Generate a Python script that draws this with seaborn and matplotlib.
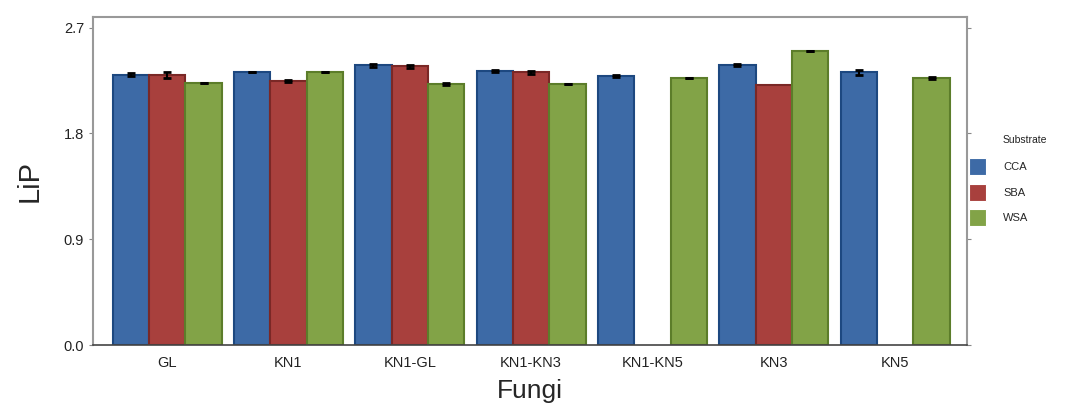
import numpy as np
import pandas as pd
import matplotlib
matplotlib.use("Agg")
import matplotlib.pyplot as plt
import seaborn as sns

fungi = ["GL", "KN1", "KN1-GL", "KN1-KN3", "KN1-KN5", "KN3", "KN5"]
substrates = ["CCA", "SBA", "WSA"]
cca = [2.30, 2.32, 2.38, 2.33, 2.29, 2.38, 2.32]
sba = [2.30, 2.25, 2.37, 2.32, np.nan, 2.21, np.nan]
wsa = [2.23, 2.32, 2.22, 2.22, 2.27, 2.50, 2.27]
cca_err = [0.012, 0.0, 0.012, 0.010, 0.010, 0.010, 0.020]
sba_err = [0.025, 0.008, 0.015, 0.010, np.nan, 0.012, np.nan]
wsa_err = [0.0, 0.0, 0.010, 0.0, 0.0, 0.0, 0.008]
colors = ["#3d6aa6", "#a8403d", "#82a347"]
edges = ["#1d4880", "#7a2826", "#5c7d2a"]

df = pd.DataFrame({
    "Fungi": fungi * 3,
    "Substrate": sum([[s] * len(fungi) for s in substrates], []),
    "LiP": cca + sba + wsa,
    "err": cca_err + sba_err + wsa_err,
})

sns.set_style("white")
plt.rcParams["font.family"] = ["Liberation Sans", "DejaVu Sans"]

fig = plt.figure(figsize=(10.7, 4.07), dpi=100)
ax = fig.add_axes([0.087, 0.152, 0.817, 0.806])
sns.barplot(data=df, x="Fungi", y="LiP", hue="Substrate", order=fungi,
            hue_order=substrates, palette=colors, errorbar=None, width=0.9,
            saturation=1, linewidth=1.5, ax=ax)

# color edges and add error bars at bar centers
for cont, ec, s in zip(ax.containers, edges, substrates):
    sub = df[df["Substrate"] == s].set_index("Fungi").loc[fungi]
    for bar, v, e in zip(cont, sub["LiP"], sub["err"]):
        bar.set_edgecolor(ec)
        if np.isnan(v):
            continue
        ax.errorbar(bar.get_x() + bar.get_width() / 2, v, yerr=e, fmt="none",
                    ecolor="black", elinewidth=1.5, capsize=3, capthick=2)

ax.set_ylim(0, 2.79)
ax.set_xlim(-0.61, 6.594)
ax.set_yticks([0.0, 0.9, 1.8, 2.7])
ax.set_yticklabels(["0.0", "0.9", "1.8", "2.7"])
ax.tick_params(axis="y", labelsize=10.5, length=3, left=True, right=True,
               color="#888888", labelcolor="#222222")
ax.tick_params(axis="x", labelsize=10.5, length=0, pad=8, labelcolor="#222222")
for side in ["left", "top", "right"]:
    ax.spines[side].set_color("#999999")
    ax.spines[side].set_linewidth(1.5)
ax.spines["bottom"].set_color("#444444")
ax.spines["bottom"].set_linewidth(1.2)
ax.set_ylabel("LiP", fontsize=21, labelpad=14)
ax.set_xlabel("Fungi", fontsize=19, labelpad=6)

# legend with handles right against the axes frame, title above the labels
leg = ax.legend(loc="upper left", bbox_to_anchor=(969 / 1070, 1 - 158 / 407),
                bbox_transform=fig.transFigure, frameon=False, fontsize=8,
                handlelength=1.5, handleheight=2.0, labelspacing=0.75,
                handletextpad=1.6, borderpad=0, borderaxespad=0)
for h in leg.legend_handles:
    h.set_linewidth(0.8)
fig.text(1003 / 1070, 1 - 140 / 407, "Substrate", fontsize=7.5, va="center",
         ha="left", color="#222222")

plt.savefig("out.png", dpi=100)
